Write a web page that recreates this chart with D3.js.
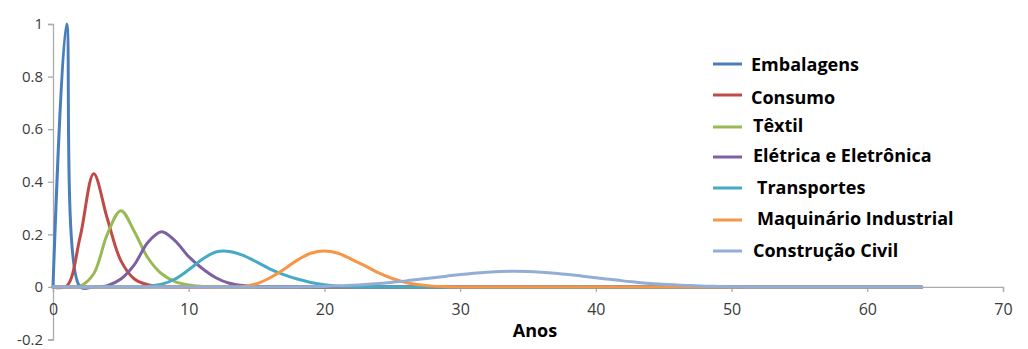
<!DOCTYPE html>
<html>
<head>
<meta charset="utf-8">
<script src="https://cdn.jsdelivr.net/npm/d3@7"></script>
<style>
  html, body { margin: 0; padding: 0; background: #ffffff; }
  svg { display: block; }
</style>
</head>
<body>
<svg id="chart" width="1028" height="349"></svg>
<script>
// ---------- data ----------
const anos = [
  0,1,2,3,4,5,6,7,8,9,
  10,11,12,13,14,15,16,17,18,19,
  20,21,22,23,24,25,26,27,28,29,
  30,31,32,33,34,35,36,37,38,39,
  40,41,42,43,44,45,46,47,48,49,
  50,51,52,53,54,55,56,57,58,59,
  60,61,62,63,64
];
const seriesNames = ["Embalagens","Consumo","Têxtil","Elétrica e Eletrônica","Transportes","Maquinário Industrial","Construção Civil"];

const embalagens = [
  0,1,0,0,0,0,0,0,0,0,
  0,0,0,0,0,0,0,0,0,0,
  0,0,0,0,0,0,0,0,0,0,
  0,0,0,0,0,0,0,0,0,0,
  0,0,0,0,0,0,0,0,0,0,
  0,0,0,0,0,0,0,0,0,0,
  0,0,0,0,0
];
const consumo = [
  0,0.003,0.19,0.43,0.26,0.10,0.03,0.008,0.002,0,
  0,0,0,0,0,0,0,0,0,0,
  0,0,0,0,0,0,0,0,0,0,
  0,0,0,0,0,0,0,0,0,0,
  0,0,0,0,0,0,0,0,0,0,
  0,0,0,0,0,0,0,0,0,0,
  0,0,0,0,0
];
const textil = [
  0,0,0.003,0.05,0.20,0.29,0.21,0.11,0.05,0.02,
  0.007,0.002,0,0,0,0,0,0,0,0,
  0,0,0,0,0,0,0,0,0,0,
  0,0,0,0,0,0,0,0,0,0,
  0,0,0,0,0,0,0,0,0,0,
  0,0,0,0,0,0,0,0,0,0,
  0,0,0,0,0
];
const eletrica = [
  0,0,0,0,0.005,0.03,0.085,0.17,0.21,0.175,
  0.115,0.07,0.035,0.014,0.005,0.001,0,0,0,0,
  0,0,0,0,0,0,0,0,0,0,
  0,0,0,0,0,0,0,0,0,0,
  0,0,0,0,0,0,0,0,0,0,
  0,0,0,0,0,0,0,0,0,0,
  0,0,0,0,0
];
const transportes = [
  0,0,0,0,0,0,0,0.002,0.01,0.03,
  0.065,0.105,0.133,0.135,0.12,0.095,0.068,0.047,0.03,0.017,
  0.008,0.003,0.001,0,0,0,0,0,0,0,
  0,0,0,0,0,0,0,0,0,0,
  0,0,0,0,0,0,0,0,0,0,
  0,0,0,0,0,0,0,0,0,0,
  0,0,0,0,0
];
const maquinario = [
  0,0,0,0,0,0,0,0,0,0,
  0,0,0,0,0.002,0.012,0.035,0.066,0.102,0.128,
  0.137,0.128,0.105,0.08,0.053,0.032,0.017,0.008,0.003,0.001,
  0,0,0,0,0,0,0,0,0,0,
  0,0,0,0,0,0,0,0,0,0,
  0,0,0,0,0,0,0,0,0,0,
  0,0,0,0,0
];
const construcao = [
  0,0,0,0,0,0,0,0,0,0,
  0,0,0,0,0,0,0,0,0,0.001,
  0.002,0.004,0.006,0.009,0.013,0.018,0.023,0.029,0.035,0.041,
  0.047,0.052,0.056,0.059,0.060,0.059,0.056,0.052,0.047,0.041,
  0.035,0.029,0.023,0.018,0.013,0.010,0.007,0.005,0.003,0.002,
  0.001,0,0,0,0,0,0,0,0,0,
  0,0,0,0,0
];
const xTicks = [0,10,20,30,40,50,60,70];
const xTickLabels = ["0","10","20","30","40","50","60","70"];
const yTicks = [-0.2,0,0.2,0.4,0.6,0.8,1];
const yTickLabels = ["-0.2","0","0.2","0.4","0.6","0.8","1"];
const xTitle = "Anos";

// ---------- styles / layout ----------
const colors = ["#4A7EBB","#BE4B48","#98B954","#7D60A0","#46AAC5","#F79646","#93AED6"];
const legendLineY = [64, 95, 127, 157, 188, 220, 251];
const legendTextY = [64.5, 98, 126, 155.5, 188, 219, 251];
const legendTextX = [751, 751, 753, 753, 757, 757, 753];
const allSeries = [embalagens, consumo, textil, eletrica, transportes, maquinario, construcao];

const svg = d3.select("#chart");
const x = d3.scaleLinear().domain([0, 70]).range([53, 1003]);
const y = d3.scaleLinear().domain([-0.2, 1]).range([339.5, 24]);
const axisColor = "#ABABAB";
const labelColor = "#3A3A3A";
const font = "'Open Sans', sans-serif";

// y axis
const yAxis = svg.append("g").attr("transform", `translate(${x(0)},0)`)
  .call(d3.axisLeft(y).tickValues(yTicks).tickSize(5).tickPadding(5)
    .tickFormat((d, i) => yTickLabels[i]));
yAxis.select(".domain").attr("stroke", axisColor).attr("stroke-width", 1.3);
yAxis.selectAll(".tick line").attr("stroke", axisColor).attr("stroke-width", 1.3);
yAxis.selectAll(".tick text").attr("fill", labelColor).style("font-family", font).style("font-size", "15px");

// x axis at y=0
const xAxis = svg.append("g").attr("transform", `translate(0,${y(0)})`)
  .call(d3.axisBottom(x).tickValues(xTicks).tickSize(5).tickPadding(12)
    .tickFormat((d, i) => xTickLabels[i]));
xAxis.select(".domain").attr("stroke", axisColor).attr("stroke-width", 1.3);
xAxis.selectAll(".tick line").attr("stroke", axisColor).attr("stroke-width", 1.3);
xAxis.selectAll(".tick text").attr("fill", labelColor).style("font-family", font).style("font-size", "16px");

// title
svg.append("text").attr("x", 535).attr("y", 337).attr("text-anchor", "middle")
  .style("font-family", font).style("font-size", "18px").style("font-weight", "700")
  .attr("fill", "#000").text(xTitle);

// lines
const line = d3.line()
  .x((d, i) => x(anos[i]))
  .y(d => y(d))
  .curve(d3.curveCatmullRom.alpha(0.5));

allSeries.forEach((s, k) => {
  svg.append("path").datum(s)
    .attr("d", line)
    .attr("fill", "none")
    .attr("stroke", colors[k])
    .attr("stroke-width", 3)
    .attr("stroke-linejoin", "round")
    .attr("stroke-linecap", "round");
});

// legend
const leg = svg.append("g");
seriesNames.forEach((name, k) => {
  leg.append("line").attr("x1", 713).attr("x2", 742)
    .attr("y1", legendLineY[k]).attr("y2", legendLineY[k])
    .attr("stroke", colors[k]).attr("stroke-width", 3);
  leg.append("text").attr("x", legendTextX[k]).attr("y", legendTextY[k]).attr("dy", "0.35em")
    .style("font-family", font).style("font-size", "18px").style("font-weight", "700")
    .attr("fill", "#000").text(name);
});
</script>
</body>
</html>
